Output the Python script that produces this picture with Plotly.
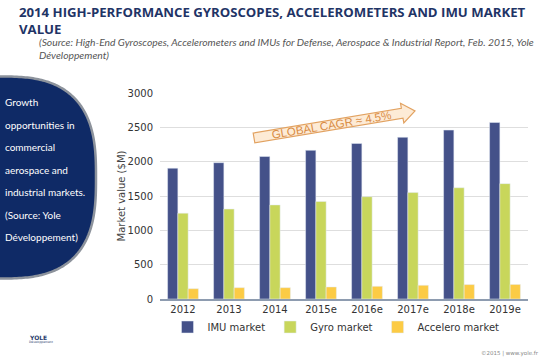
import plotly.graph_objects as go
import math

years = ["2012", "2013", "2014", "2015e", "2016e", "2017e", "2018e", "2019e"]
imu = [1905, 1985, 2075, 2165, 2265, 2355, 2460, 2570]
gyro = [1250, 1310, 1370, 1420, 1490, 1550, 1620, 1680]
accel = [150, 165, 165, 175, 185, 200, 210, 212]

W, H = 560, 362
ML, MR, MT, MB = 160, 32, 93, 63
PW, PH = W - ML - MR, H - MT - MB


def px(x):
    return (x - ML) / PW


def py(y):
    return (H - MB - y) / PH


fig = go.Figure()
fig.add_trace(go.Bar(x=years, y=imu, name="IMU market", marker_color="#445189"))
fig.add_trace(go.Bar(x=years, y=gyro, name="Gyro market", marker_color="#c8d65b"))
fig.add_trace(go.Bar(x=years, y=accel, name="Accelero market", marker_color="#fccb45"))

shapes = []
# left navy panel (superellipse outline, decoration)
ca, cb, ccy, ne = 96.0, 101.0, 177.5, 2.8
pan = []
for k in range(0, 181):
    t = math.radians(-90 + k)
    ct, st = math.cos(t), math.sin(t)
    xx = ca * (abs(ct) ** (2 / ne))
    yy = ccy + cb * math.copysign(abs(st) ** (2 / ne), st)
    pan.append((xx, yy))
ppath = "M " + " L ".join(f"{px(x):.5f},{py(y):.5f}" for x, y in [(-20, pan[0][1])] + pan + [(-20, pan[-1][1])]) + " Z"
shapes.append(dict(type="path", xref="paper", yref="paper", path=ppath,
                   fillcolor="#0f2a66", line=dict(color="#8d939c", width=2.5), layer="below"))

# CAGR arrow
S = (254, 138)
T = (415, 111)
L = math.hypot(T[0] - S[0], T[1] - S[1])
d = ((T[0] - S[0]) / L, (T[1] - S[1]) / L)
n = (-d[1], d[0])
h, hw, hl = 5, 10, 13


def P(a, b):
    return (S[0] + a * d[0] + b * n[0], S[1] + a * d[1] + b * n[1])


pts = [P(0, -h), P(L - hl, -h), P(L - hl, -hw), P(L, 0), P(L - hl, hw), P(L - hl, h), P(0, h)]
path = "M " + " L ".join(f"{px(x):.5f},{py(y):.5f}" for x, y in pts) + " Z"
shapes.append(dict(type="path", xref="paper", yref="paper", path=path,
                   fillcolor="#fdebd6", line=dict(color="#e2a261", width=1.2), layer="above"))

annotations = []
annotations.append(dict(text="GLOBAL CAGR ≈ 4.5%", x=px(331), y=py(125), xref="paper", yref="paper",
                        xanchor="center", yanchor="middle",
                        showarrow=False, textangle=-9.5,
                        font=dict(family="Liberation Sans, Arial", size=11.5, color="#d98c44")))

annotations.append(dict(text="<b>2014 HIGH-PERFORMANCE GYROSCOPES, ACCELEROMETERS AND IMU MARKET<br>VALUE</b>",
                        x=px(17), y=py(1), xref="paper", yref="paper", xanchor="left", yanchor="top",
                        align="left", showarrow=False,
                        font=dict(family="Open Sans", size=13.2, color="#1f3466")))
annotations.append(dict(text="<i>(Source: High-End Gyroscopes, Accelerometers and IMUs for Defense, Aerospace &amp; Industrial Report, Feb. 2015, Yole<br>Développement)</i>",
                        x=px(37), y=py(33.5), xref="paper", yref="paper", xanchor="left", yanchor="top",
                        align="left", showarrow=False,
                        font=dict(family="Lato", size=10.3, color="#555555")))

side = ["Growth", "opportunities in", "commercial", "aerospace and", "industrial markets.",
        "(Source: Yole", "Développement)"]
for i, t in enumerate(side):
    annotations.append(dict(text=t, x=px(3), y=py(102 + i * 22.5), xref="paper", yref="paper",
                            xanchor="left", yanchor="middle", showarrow=False,
                            font=dict(family="Lato", size=10, color="#ffffff")))

annotations.append(dict(text="<b>YOLE</b>", x=px(27), y=py(337), xref="paper", yref="paper",
                        xanchor="left", yanchor="middle", showarrow=False,
                        font=dict(family="DejaVu Sans", size=6, color="#2a3d6e")))
annotations.append(dict(text="Développement", x=px(27), y=py(342), xref="paper", yref="paper",
                        xanchor="left", yanchor="middle", showarrow=False,
                        font=dict(family="DejaVu Sans", size=3, color="#2a3d6e")))
annotations.append(dict(text="©2015 | www.yole.fr", x=px(541), y=py(353), xref="paper", yref="paper",
                        xanchor="right", yanchor="middle", showarrow=False,
                        font=dict(family="DejaVu Sans", size=5.5, color="#888888")))

fig.update_layout(
    width=W, height=H,
    margin=dict(l=ML, r=MR, t=MT, b=MB, pad=0),
    paper_bgcolor="white", plot_bgcolor="white",
    barmode="group", bargap=0.33, bargroupgap=0,
    shapes=shapes, annotations=annotations,
    showlegend=True,
    legend=dict(orientation="h", x=px(336), xanchor="center", y=py(327), yanchor="middle",
                font=dict(family="DejaVu Sans", size=10, color="#333333"),
                itemwidth=30, tracegroupgap=0, bgcolor="rgba(0,0,0,0)"),
    xaxis=dict(tickfont=dict(family="DejaVu Sans", size=10, color="#333333"),
               showline=True, linecolor="#8e9cb0", linewidth=2, ticks="", showgrid=False),
    yaxis=dict(range=[0, 3000], dtick=500, tickfont=dict(family="DejaVu Sans", size=10, color="#333333"),
               showgrid=True, gridcolor="#dedede", gridwidth=1, zeroline=False, ticks="",
               ticklabelstandoff=6,
               title=dict(text="Market value ($M)", standoff=0,
                          font=dict(family="DejaVu Sans", size=10, color="#444444"))),
)

fig.write_html("out.html", config={"displayModeBar": False},
               post_script="document.body.style.margin='0';document.body.style.overflow='hidden';")
